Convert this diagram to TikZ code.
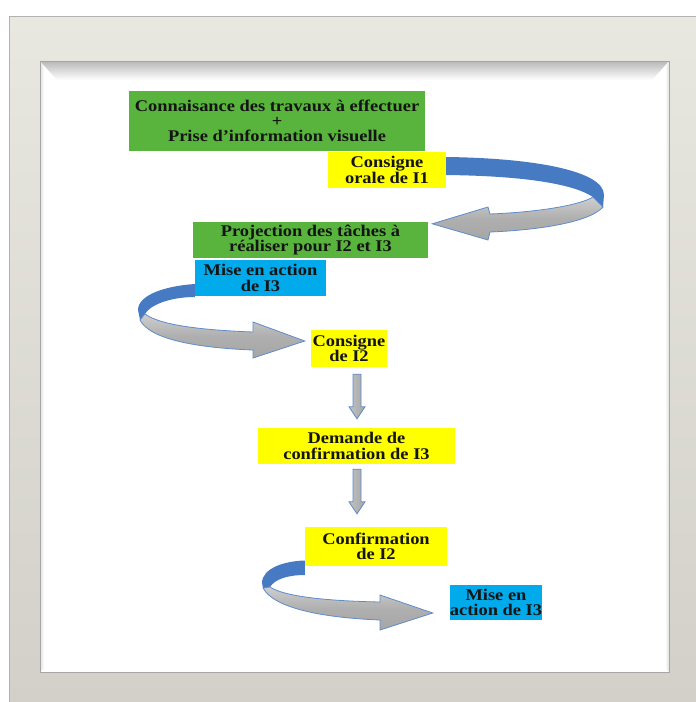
\documentclass[tikz,border=0pt]{standalone}
\usepackage{fontspec}
\setmainfont[FakeStretch=1.13]{Liberation Serif}
\usetikzlibrary{calc}
\definecolor{gr}{RGB}{88,180,60}
\definecolor{ye}{RGB}{255,255,0}
\definecolor{bl}{RGB}{0,170,235}
\definecolor{rib}{RGB}{70,122,194}
\definecolor{ribgray}{RGB}{166,166,166}
\definecolor{ribline}{RGB}{95,140,205}
\definecolor{txt}{RGB}{20,20,20}
\begin{document}
\begin{tikzpicture}[x=1pt,y=-1pt,
  box/.style={inner sep=0pt, minimum height=36pt, align=center, text=txt,
    font=\bfseries\fontsize{16.3}{15.3}\selectfont},
  gbox/.style={box, fill=gr},
  ybox/.style={box, fill=ye},
  bbox/.style={box, fill=bl},
  band/.style={fill=rib},
  front/.style={top color=ribgray!55, bottom color=ribgray, middle color=ribgray!90, draw=ribline, line width=0.8pt, line join=miter},
  downarr/.style={left color=ribgray!70, right color=ribgray, middle color=ribgray!85, draw=ribline, line width=0.8pt}
]
\useasboundingbox (0,0) rectangle (696,702);
% frame
\fill[white] (0,0) rectangle (696,702);
\shade[top color={rgb,255:red,232;green,231;blue,224}, bottom color={rgb,255:red,210;green,208;blue,200}] (9,16) rectangle (696,702);
\draw[black!30, line width=0.6pt] (9,16) rectangle (696,702);
\fill[white] (40,61) rectangle (669,672);
\shade[top color=black!28, bottom color=white] (40,61) -- (669,61) -- (652,80) -- (57,80) -- cycle;
\shade[left color=black!12, right color=white] (40,61) -- (44,66) -- (44,668) -- (40,672) -- cycle;
\shade[right color=black!12, left color=white] (669,61) -- (665,66) -- (665,668) -- (669,672) -- cycle;
\draw[black!35, line width=0.8pt] (40,61) rectangle (669,672);

% nodes
\node[gbox, minimum width=296pt, minimum height=60pt] (g1) at (277,121)
  {Connaisance des travaux à effectuer\\+\\Prise d’information visuelle};
\node[ybox, minimum width=118pt] (y1) at (387,170) {Consigne\\orale de I1};
\node[gbox, minimum width=235pt] (g2) at (310.5,240) {Projection des tâches à\\réaliser pour I2 et I3};
\node[bbox, minimum width=131pt] (b1) at (260.5,278) {Mise en action\\de I3};
\node[ybox, minimum width=76pt, minimum height=37pt] (y2) at (349,348.5) {Consigne\\de I2};
\node[ybox, minimum width=197pt] (y3) at (356.5,446) {Demande de\\confirmation de I3};
\node[ybox, minimum width=142pt, minimum height=39pt] (y4) at (376,546.5) {Confirmation\\de I2};
\node[bbox, minimum width=84pt, minimum height=35pt] (b2) at (496,602.5) {Mise en\\action de I3};

% curved arrow 1 : y1 -> g2
\coordinate (a1s) at (y1.east);
\coordinate (a1t) at ($(g2.north east)+(4,2)$);
\fill[band] ($(a1s)+(0,-13)$) .. controls (530,158) and (604,170) .. (604,195)
  -- (603,207) -- (593,197) .. controls (575,185) and (530,176) .. ($(a1s)+(0,5)$) -- cycle;
\path[front] (603,207) .. controls (590,222) and (540,230) .. (490,232)
  -- (488,240) -- (a1t) -- (488,207) -- (490,214)
  .. controls (540,212) and (580,205) .. (593,197) -- cycle;

% curved arrow 2 : b1 -> y2
\coordinate (a2s) at (b1.west);
\coordinate (a2t) at ($(y2.west)+(-6,-7.5)$);
\fill[band] ($(a2s)+(0,6)$) .. controls (165,286) and (138,295) .. (138,310)
  -- (140,320) -- (145,314) .. controls (150,305) and (170,297) .. ($(a2s)+(0,19)$) -- cycle;
\path[front] (140,320) .. controls (150,340) and (200,348) .. (253,350)
  -- (253,358) -- (a2t) -- (253,322) -- (253,332)
  .. controls (200,330) and (160,325) .. (145,314) -- cycle;

% down arrows
\coordinate (d1s) at ($(y2.south)+(8,7)$);
\coordinate (d1t) at ($(y3.north)+(0.5,-9)$);
\path[downarr] ($(d1s)+(-4,0)$) -- ($(d1s)+(4,0)$) -- ($(d1t)+(4,-12)$) -- ($(d1t)+(8,-12)$)
  -- (d1t) -- ($(d1t)+(-8,-12)$) -- ($(d1t)+(-4,-12)$) -- cycle;
\coordinate (d2s) at ($(y3.south)+(0.5,5)$);
\coordinate (d2t) at ($(y4.north)+(-19,-13)$);
\path[downarr] ($(d2s)+(-4,0)$) -- ($(d2s)+(4,0)$) -- ($(d2t)+(4,-12)$) -- ($(d2t)+(8,-12)$)
  -- (d2t) -- ($(d2t)+(-8,-12)$) -- ($(d2t)+(-4,-12)$) -- cycle;

% curved arrow 3 : y4 -> b2
\coordinate (a3s) at (y4.west);
\coordinate (a3t) at ($(b2.west)+(-17,10.5)$);
\fill[band] ($(a3s)+(0,14)$) .. controls (285,561) and (262,568) .. (262,583)
  -- (263,588) -- (270,587) .. controls (275,579) and (288,575) .. ($(a3s)+(0,28.5)$) -- cycle;
\path[front] (263,588) .. controls (275,610) and (330,618) .. (380,620)
  -- (380,630) -- (a3t) -- (380,595) -- (380,602)
  .. controls (330,601) and (285,597) .. (270,587) -- cycle;
\end{tikzpicture}
\end{document}
